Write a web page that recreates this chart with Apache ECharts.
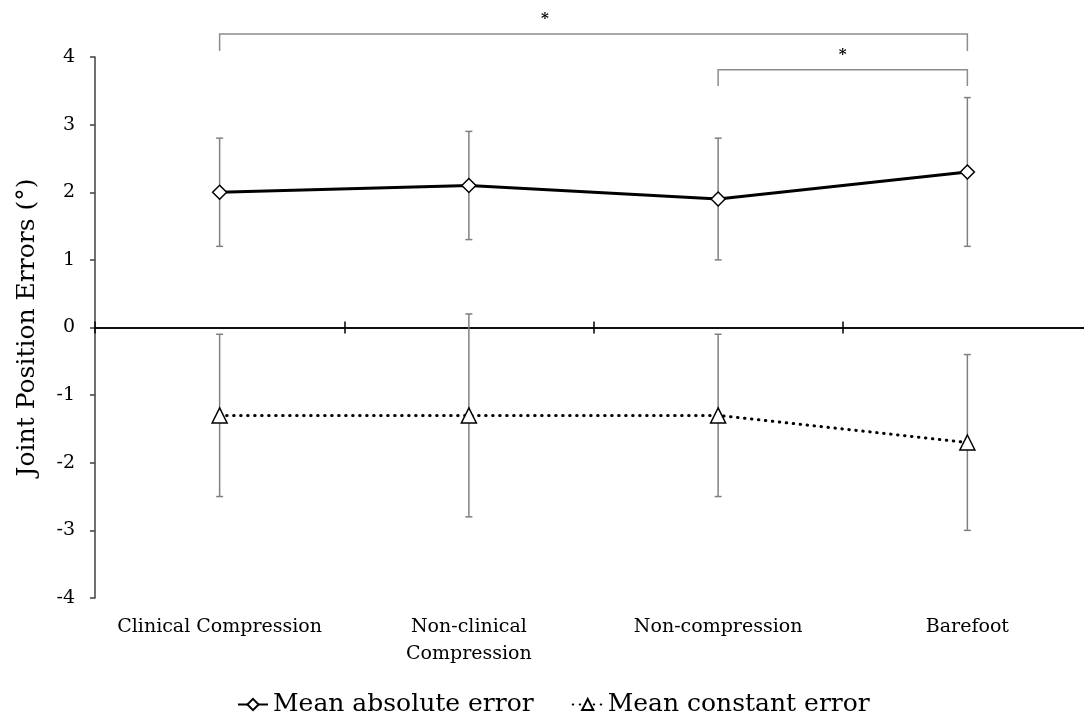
<!DOCTYPE html>
<html>
<head>
<meta charset="utf-8">
<script src="https://cdn.jsdelivr.net/npm/echarts@6/dist/echarts.min.js"></script>
<style>html,body{margin:0;padding:0;background:#fff;}#c{width:1084px;height:718px;}</style>
</head>
<body>
<div id="c"></div>
<script>
const categories = ['Clinical Compression', 'Non-clinical\nCompression', 'Non-compression', 'Barefoot'];
const absMean = [2.0, 2.1, 1.9, 2.3];
const absLow = [1.2, 1.3, 1.0, 1.2];
const absHigh = [2.8, 2.9, 2.8, 3.4];
const constMean = [-1.3, -1.3, -1.3, -1.7];
const constLow = [-2.5, -2.8, -2.5, -3.0];
const constHigh = [-0.1, 0.2, -0.1, -0.4];
const yTicks = [-4, -3, -2, -1, 0, 1, 2, 3, 4];
// significance brackets: from category index, to category index, bracket level, leg bottom, label
const bracketFrom = [0, 2];
const bracketTo = [3, 3];
const bracketLevel = [4.34, 3.81];
const bracketLegEnd = [4.09, 3.57];
const bracketLabel = ['*', '*'];

const FONT = '"DejaVu Serif", "Liberation Serif", serif';

const errData = [];
for (let i = 0; i < categories.length; i++) {
  errData.push([i, absLow[i], absHigh[i]]);
  errData.push([i, constLow[i], constHigh[i]]);
}
const bracketData = bracketFrom.map((f, i) => [f, bracketTo[i], bracketLevel[i], bracketLegEnd[i]]);

function renderErr(params, api) {
  const x = api.value(0);
  const lo = api.coord([x, api.value(1)]);
  const hi = api.coord([x, api.value(2)]);
  const hw = 3.5;
  const st = {stroke: '#808080', lineWidth: 1.5};
  return {
    type: 'group',
    children: [
      {type: 'line', shape: {x1: lo[0], y1: lo[1], x2: hi[0], y2: hi[1]}, style: st},
      {type: 'line', shape: {x1: lo[0] - hw, y1: lo[1], x2: lo[0] + hw, y2: lo[1]}, style: st},
      {type: 'line', shape: {x1: hi[0] - hw, y1: hi[1], x2: hi[0] + hw, y2: hi[1]}, style: st}
    ]
  };
}

function renderBracket(params, api) {
  const i = params.dataIndex;
  const a = api.coord([api.value(0), api.value(2)]);
  const b = api.coord([api.value(1), api.value(2)]);
  const aEnd = api.coord([api.value(0), api.value(3)]);
  const bEnd = api.coord([api.value(1), api.value(3)]);
  const t = i === 0 ? 0.435 : 0.5;
  const lx = a[0] + (b[0] - a[0]) * t;
  return {
    type: 'group',
    children: [
      {type: 'polyline', shape: {points: [[aEnd[0], aEnd[1]], [a[0], a[1]], [b[0], b[1]], [bEnd[0], bEnd[1]]]},
       style: {stroke: '#8c8c8c', lineWidth: 1.5, fill: null}},
      {type: 'text', x: lx, y: a[1] - 7,
       style: {text: bracketLabel[i], font: 'bold 15px ' + FONT, fill: '#000', align: 'center', verticalAlign: 'bottom'}}
    ]
  };
}

const gridRect = {left: 95, top: 57, width: 997, height: 541, containLabel: false, outerBoundsMode: 'none'};

const chart = echarts.init(document.getElementById('c'), null, {renderer: 'canvas'});
chart.setOption({
  animation: false,
  backgroundColor: '#fff',
  grid: [Object.assign({}, gridRect), Object.assign({}, gridRect)],
  legend: {
    bottom: -4,
    left: 232,
    itemGap: 38,
    itemWidth: 30,
    itemHeight: 14,
    textStyle: {fontFamily: FONT, fontSize: 25, color: '#000'},
    data: ['Mean absolute error', 'Mean constant error']
  },
  xAxis: [
    {
      type: 'category', gridIndex: 0, data: categories, position: 'bottom',
      axisLine: {show: false, onZero: false}, axisTick: {show: false},
      axisLabel: {fontFamily: FONT, fontSize: 19, color: '#000', margin: 16, lineHeight: 27, interval: 0}
    },
    {
      type: 'category', gridIndex: 0, data: categories, position: 'bottom',
      axisLine: {show: true, onZero: true, lineStyle: {color: '#000', width: 1.5}},
      axisTick: {show: true, inside: true, length: 6, lineStyle: {color: '#000', width: 1.5}},
      axisLabel: {show: false}
    },
    {
      type: 'category', gridIndex: 1, data: categories, position: 'bottom',
      axisLine: {show: true, onZero: true, lineStyle: {color: '#000', width: 1.5}},
      axisTick: {show: true, inside: false, length: 6, lineStyle: {color: '#000', width: 1.5}},
      axisLabel: {show: false}
    }
  ],
  yAxis: [
    {
      type: 'value', gridIndex: 0, min: -4, max: 4, interval: 1,
      name: 'Joint Position Errors (°)', nameLocation: 'middle', nameGap: 55,
      nameTextStyle: {fontFamily: FONT, fontSize: 25, color: '#000'},
      axisLine: {show: true, lineStyle: {color: '#404040', width: 1.5}},
      axisTick: {show: true, length: 5, lineStyle: {color: '#404040', width: 1.5}},
      axisLabel: {fontFamily: FONT, fontSize: 19, color: '#000', margin: 20,
        formatter: v => yTicks.includes(v) ? String(v) : ''},
      splitLine: {show: false}
    },
    {
      type: 'value', gridIndex: 1, min: -4, max: 4, interval: 1, show: false,
      axisLine: {show: false}, axisTick: {show: false}, axisLabel: {show: false}, splitLine: {show: false}
    }
  ],
  series: [
    {
      type: 'custom', name: 'err', xAxisIndex: 0, yAxisIndex: 0, renderItem: renderErr, data: errData,
      z: 1, silent: true, clip: false
    },
    {
      type: 'custom', name: 'brackets', xAxisIndex: 0, yAxisIndex: 0, renderItem: renderBracket, data: bracketData,
      z: 1, silent: true, clip: false
    },
    {
      type: 'line', name: 'Mean absolute error', xAxisIndex: 0, yAxisIndex: 0, data: absMean,
      symbol: 'path://M0,-1L1,0L0,1L-1,0Z', symbolSize: 14,
      lineStyle: {color: '#000', width: 3},
      itemStyle: {color: '#fff', borderColor: '#000', borderWidth: 1.5},
      z: 3
    },
    {
      type: 'line', name: 'Mean constant error', xAxisIndex: 0, yAxisIndex: 0, data: constMean,
      symbol: 'triangle', symbolSize: 15,
      lineStyle: {color: '#000', width: 3, type: [0.5, 6.5], cap: 'round'},
      itemStyle: {color: '#fff', borderColor: '#000', borderWidth: 1.5},
      z: 3
    }
  ]
});
</script>
</body>
</html>
